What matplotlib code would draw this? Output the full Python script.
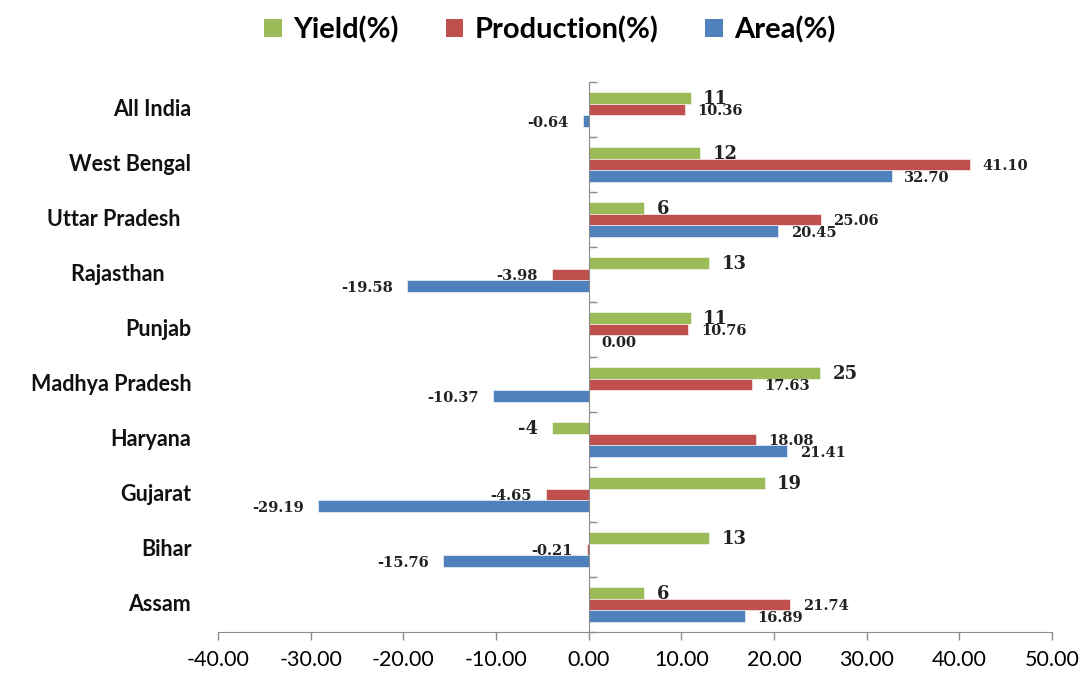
import numpy as np
import matplotlib
matplotlib.use('Agg')
import matplotlib.pyplot as plt
from matplotlib.patches import Patch

# states listed bottom to top
states = ['Assam', 'Bihar', 'Gujarat', 'Haryana', 'Madhya Pradesh', 'Punjab',
          'Rajasthan     ', 'Uttar Pradesh  ', 'West Bengal', 'All India']
area = [16.89, -15.76, -29.19, 21.41, -10.37, 0.00, -19.58, 20.45, 32.70, -0.64]
production = [21.74, -0.21, -4.65, 18.08, 17.63, 10.76, -3.98, 25.06, 41.10, 10.36]
yield_pct = [6, 13, 19, -4, 25, 11, 13, 6, 12, 11]

x_ticks = np.arange(-40, 51, 10)

c_yield = '#9BBB59'
c_prod = '#C0504D'
c_area = '#4F81BD'

fig = plt.figure(figsize=(10.81, 6.77), dpi=100)
ax = fig.add_axes([218 / 1081, 1 - 632 / 677, (1052 - 218) / 1081, (632 - 82) / 677])

y = np.arange(len(states))
h = 0.212

series = [
    (yield_pct, c_yield, h, '{:.0f}', 13),
    (production, c_prod, 0, '{:.2f}', 10.5),
    (area, c_area, -h, '{:.2f}', 10.5),
]

for vals, col, off, fmt, fs in series:
    bars = ax.barh(y + off, vals, height=h, color=col, edgecolor='white', linewidth=0.4)
    for b, v in zip(bars, vals):
        xe = b.get_x() + b.get_width()
        ax.annotate(fmt.format(v), (xe, b.get_y() + h / 2),
                    xytext=(9 if v >= 0 else -10, -1), textcoords='offset points',
                    ha='left' if v >= 0 else 'right', va='center',
                    fontsize=fs, fontweight='bold', family='DejaVu Serif', color='#222222')

ax.set_xlim(-40, 50)
ax.set_ylim(-0.5, len(states) - 0.5)

ax.set_xticks(x_ticks)
ax.set_xticklabels(['{:.2f}'.format(t) for t in x_ticks], fontsize=15.5, family='Lato')
ax.tick_params(axis='x', direction='out', length=6, width=1, color='#8c8c8c', pad=7)

# value axis drawn through zero, ticks at category boundaries
ax.spines['left'].set_position(('data', 0))
ax.spines['left'].set_color('#8c8c8c')
ax.spines['bottom'].set_color('#8c8c8c')
ax.spines['top'].set_visible(False)
ax.spines['right'].set_visible(False)
ax.set_yticks(np.arange(-0.5, len(states), 1))
ax.set_yticklabels([])
ax.tick_params(axis='y', direction='in', length=6, width=1, color='#8c8c8c')

for yi, name in zip(y, states):
    ax.text(-0.032, yi, name, transform=ax.get_yaxis_transform(), ha='right', va='center',
            fontsize=15.5, fontweight='bold', family='Lato', color='#111111')

handles = [Patch(facecolor=c_yield, label='Yield(%)'),
           Patch(facecolor=c_prod, label='Production(%)'),
           Patch(facecolor=c_area, label='Area(%)')]
fig.legend(handles=handles, loc='center', bbox_to_anchor=(0.509, 0.956), ncol=3, frameon=False,
           prop={'family': 'Lato', 'weight': 'bold', 'size': 21},
           handlelength=0.6, handleheight=0.6, handletextpad=0.4, columnspacing=1.6)

fig.savefig('out.png', dpi=100)
